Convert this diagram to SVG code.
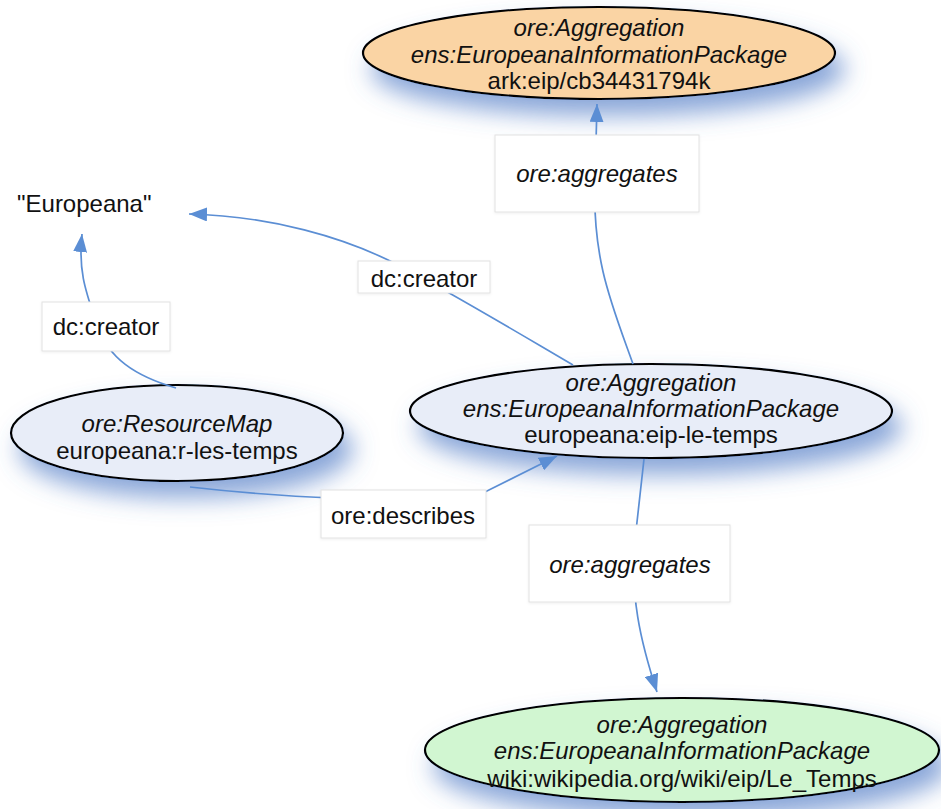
<svg xmlns="http://www.w3.org/2000/svg" width="941" height="809" viewBox="0 0 941 809">
<style>
.t{font-family:"Liberation Sans",Arial,sans-serif;font-size:24px;fill:#111;text-anchor:middle}
.i{font-style:italic}
.node{stroke:#000;stroke-width:2.2}
.edge{fill:none;stroke:#5B8ED4;stroke-width:1.7}
.lbl{fill:#fff;stroke:#e2e2e2;stroke-width:1}
</style>
<defs>
<filter id="sh" x="-20%" y="-40%" width="140%" height="200%">
<feGaussianBlur in="SourceAlpha" stdDeviation="12" result="b"/>
<feOffset in="b" dx="9" dy="16" result="o"/>
<feFlood flood-color="#4B77C4" flood-opacity="0.65"/>
<feComposite in2="o" operator="in" result="s"/>
<feMerge><feMergeNode in="s"/><feMergeNode in="SourceGraphic"/></feMerge>
</filter>
<filter id="lsh" x="-10%" y="-10%" width="120%" height="130%">
<feGaussianBlur in="SourceAlpha" stdDeviation="1.5" result="b"/>
<feOffset in="b" dx="0" dy="1" result="o"/>
<feFlood flood-color="#000" flood-opacity="0.06"/>
<feComposite in2="o" operator="in" result="s"/>
<feMerge><feMergeNode in="s"/><feMergeNode in="SourceGraphic"/></feMerge>
</filter>
<marker id="ah" markerUnits="userSpaceOnUse" markerWidth="18" markerHeight="14" refX="18" refY="7" orient="auto">
<path d="M0,0 L18,7 L0,14 z" fill="#5B8ED4"/>
</marker>
</defs>
<rect width="941" height="809" fill="#fff"/>

<g id="n-ark">
<ellipse class="node" cx="599" cy="53" rx="236" ry="46" fill="#FAD4A4" filter="url(#sh)"/>
<text class="t i" x="599" y="36">ore:Aggregation</text>
<text class="t i" x="599" y="63">ens:EuropeanaInformationPackage</text>
<text class="t" x="599" y="89">ark:eip/cb34431794k</text>
</g>

<g id="n-eip">
<ellipse class="node" cx="651" cy="411" rx="241" ry="47" fill="#E8EDF8" filter="url(#sh)"/>
<text class="t i" x="651" y="391">ore:Aggregation</text>
<text class="t i" x="651" y="417">ens:EuropeanaInformationPackage</text>
<text class="t" x="651" y="443">europeana:eip-le-temps</text>
</g>

<g id="n-rm">
<ellipse class="node" cx="177" cy="433" rx="166" ry="48" fill="#E8EDF8" filter="url(#sh)"/>
<text class="t i" x="177" y="432">ore:ResourceMap</text>
<text class="t" x="177" y="459">europeana:r-les-temps</text>
</g>

<g id="n-wiki">
<ellipse class="node" cx="682" cy="750" rx="257" ry="52" fill="#D1F6D1" filter="url(#sh)"/>
<text class="t i" x="682" y="733">ore:Aggregation</text>
<text class="t i" x="682" y="759">ens:EuropeanaInformationPackage</text>
<text class="t" x="682" y="787">wiki:wikipedia.org/wiki/eip/Le_Temps</text>
</g>

<g id="n-europeana">
<text class="t" x="17" y="212" style="text-anchor:start">"Europeana"</text>
</g>

<g id="connectors">
<path class="edge" d="M633,364 C612,305 592,260 595,180 L597,104" marker-end="url(#ah)"/>
<path class="edge" d="M573,365 C520,334 450,292 400,266 C345,237 270,216 189,214" marker-end="url(#ah)"/>
<path class="edge" d="M176,388 C135,376 108,358 97,325 C86,292 78,272 82,234" marker-end="url(#ah)"/>
<path class="edge" d="M190,487 C270,496 400,506 485,492 L557,456" marker-end="url(#ah)"/>
<path class="edge" d="M644,459 L635,540 C630,595 640,640 657,692" marker-end="url(#ah)"/>

<rect class="lbl" x="495" y="135" width="204" height="77" filter="url(#lsh)"/>
<text class="t i" x="597" y="182">ore:aggregates</text>
<rect class="lbl" x="358" y="261" width="132" height="32" filter="url(#lsh)"/>
<text class="t" x="424" y="287">dc:creator</text>
<rect class="lbl" x="42" y="302" width="128" height="49" filter="url(#lsh)"/>
<text class="t" x="106" y="335">dc:creator</text>
<rect class="lbl" x="321" y="490" width="165" height="48" filter="url(#lsh)"/>
<text class="t" x="403" y="524">ore:describes</text>
<rect class="lbl" x="529" y="525" width="201" height="77" filter="url(#lsh)"/>
<text class="t i" x="630" y="573">ore:aggregates</text>
</g>
</svg>
